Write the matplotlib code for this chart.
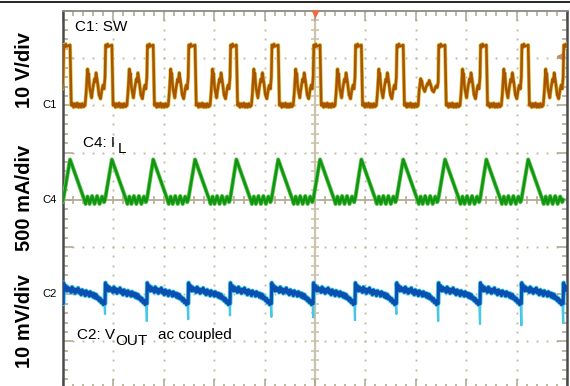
import numpy as np
import matplotlib
matplotlib.use('Agg')
import matplotlib.pyplot as plt
from matplotlib.lines import Line2D

plt.rcParams['font.family'] = ['Liberation Sans', 'DejaVu Sans']

# scope screen: 10 div across, 8 div high
# C1 (SW) sits at +2 div, C4 (IL) at 0, C2 (VOUT) at -2 div

# falling edges of SW (div)
sw_fall = [-0.69, 0.14, 0.97, 1.79, 2.62, 3.44, 4.27, 5.10, 5.92, 6.75, 7.58, 8.40, 9.23]
# size of the ringing on each cycle
sw_ring_gain = [1, 1, 1, 1, 1, 1, 1, 1, 1, 0.45, 1, 1, 1]

# one SW cycle after the falling edge: time (div), volts
sw_t = [0.000, 0.024, 0.045, 0.07, 0.095, 0.12, 0.145, 0.17, 0.195, 0.22, 0.245, 0.27, 0.298,
        0.317, 0.347, 0.357, 0.367, 0.387, 0.407, 0.427, 0.456, 0.486, 0.500, 0.516, 0.546,
        0.575, 0.605, 0.635, 0.655, 0.675, 0.694, 0.706, 0.725, 0.745, 0.765]
sw_v = [12.8, 0.0, 0.5, -0.4, 0.4, -0.3, 0.5, -0.4, 0.3, -0.4, 0.4, -0.3, 0.0,
        2.4, 7.7, 6.0, 6.8, 3.9, 2.8, 1.6, 3.9, 5.6, 5.0, 6.9, 4.8,
        2.2, 1.4, 3.5, 4.3, 3.5, 6.0, 12.8, 12.3, 13.0, 12.5]

# inductor current over one cycle: time (div), mA
il_t = [0.000, 0.278, 0.308, 0.347, 0.387, 0.437, 0.486, 0.536, 0.585, 0.635, 0.675, 0.694]
il_v = [427, 8, -44, 35, -44, 40, -44, 40, -44, 35, -25, 0]

# output ripple over one cycle: time (div), mV; index 35 is the switching spike
vo_t = [0.00, 0.02, 0.04, 0.06, 0.08, 0.10, 0.12, 0.14, 0.16, 0.18, 0.20, 0.22,
        0.24, 0.26, 0.28, 0.30, 0.32, 0.34, 0.36, 0.38, 0.40, 0.42, 0.44, 0.46,
        0.48, 0.50, 0.52, 0.54, 0.56, 0.58, 0.60, 0.62, 0.64, 0.66, 0.68,
        0.694, 0.702, 0.72, 0.74, 0.76, 0.78, 0.80]
vo_v = [1.2, 0.4, 1.5, 0.6, 1.1, 0.2, 1.0, 0.5, 1.3, 0.3, 0.8, -0.1,
        0.9, 0.2, 0.6, -0.3, 0.7, 0.1, 0.4, -0.4, 0.5, -0.2, 0.2, -0.6,
        0.1, -0.8, -0.1, -1.0, -0.6, -1.4, -0.9, -1.8, -1.3, -2.2, -1.8,
        -2.0, 2.4, 1.0, 1.8, 0.7, 1.5, 0.8]
vo_spike = [-2.0, -4.2, -5.7, -5.3, -4.5, -4.8, -4.9, -5.5, -4.2, -5.7, -6.3, -6.6, -6.1]


def build(edges, tt, vv):
    t, v = [], []
    for e in edges:
        t.extend(e + np.array(tt))
        v.extend(vv)
    return np.array(t), np.array(v, float)


# SW with per-cycle ringing size
t1, v1 = [], []
ring = (np.array(sw_t) > 0.30) & (np.array(sw_t) < 0.70)
for e, g in zip(sw_fall, sw_ring_gain):
    v = np.array(sw_v, float)
    v[ring] = 4 + (v[ring] - 4) * g
    t1.extend(e + np.array(sw_t))
    v1.extend(v)
t1, v1 = np.array(t1), np.array(v1)

t4, v4 = build(sw_fall, il_t, il_v)

t2, v2 = build(sw_fall, vo_t, vo_v)
t2s, v2s = [], []
for e, s in zip(sw_fall, vo_spike):
    v = list(vo_v)
    v[35] = s
    t2s.extend(e + np.array(vo_t))
    v2s.extend(v)
t2s, v2s = np.array(t2s), np.array(v2s)

fig = plt.figure(figsize=(5.7, 3.86), dpi=100)
ax = fig.add_axes([63 / 570, -2.6 / 386, 504 / 570, 377.6 / 386])
ax.set_xlim(0, 10)
ax.set_ylim(-4, 4)

# graticule
gcol = '#bdb49a'
for k in range(1, 10):
    if k == 5:
        continue
    ys = np.arange(-4, 4.01, 0.2)
    ax.plot(np.full_like(ys, k), ys, ls='none', marker='s', ms=1.3, mec='none', mfc=gcol, zorder=1)
for k in range(-3, 4):
    if k == 0:
        continue
    xs = np.arange(0, 10.01, 0.2)
    ax.plot(xs, np.full_like(xs, k), ls='none', marker='s', ms=1.3, mec='none', mfc=gcol, zorder=1)
ax.axvline(5, color='#cbc3aa', lw=1.6, zorder=1)
ax.axhline(0, color='#b5ad95', lw=1.3, zorder=1)
xs = np.arange(0, 10.01, 0.2)
ys = np.arange(-4, 4.01, 0.2)
ax.plot(xs, np.zeros_like(xs), ls='none', marker='|', ms=6, mew=1.2, color='#b5ad95', zorder=1)
ax.plot(np.full_like(ys, 5), ys, ls='none', marker='_', ms=6, mew=1.2, color='#cbc3aa', zorder=1)

# traces
ax.plot(t1, 2 + v1 / 10, color='#dcc448', lw=2.8, zorder=3, solid_joinstyle='round')
ax.plot(t1, 2 + v1 / 10, color='#a85400', lw=1.8, zorder=4, solid_joinstyle='round')
ax.plot(t4, v4 / 500, color='#6acb5a', lw=3.0, zorder=3)
ax.plot(t4, v4 / 500, color='#129512', lw=1.9, zorder=4)
ax.plot(t2s, -2 + v2s / 10, color='#45c8e6', lw=1.6, zorder=3)
ax.plot(t2, -2 + v2 / 10, color='#45c8e6', lw=3.4, zorder=3)
ax.plot(t2, -2 + v2 / 10, color='#0b4fb0', lw=2.2, zorder=4)

# frame and edge ticks
ax.set_xticks(np.arange(0, 11, 1))
ax.set_xticks(np.arange(0, 10.01, 0.2), minor=True)
ax.set_yticks(np.arange(-4, 5, 1))
ax.set_yticks(np.arange(-4, 4.01, 0.2), minor=True)
ax.tick_params(which='both', direction='in', top=True, right=True, labelbottom=False,
               labelleft=False, color='#aba38a', width=1.1)
ax.tick_params(which='major', length=7)
ax.tick_params(which='minor', length=3.6)
for s in ['left', 'right']:
    ax.spines[s].set_color('#4a4a4a')
    ax.spines[s].set_linewidth(1.8)
for s in ['top', 'bottom']:
    ax.spines[s].set_color('#8a8a8a')
    ax.spines[s].set_linewidth(1.3)

# markers
ax.plot([5], [3.93], marker='v', ms=6, color='#f26b3a', mec='none', clip_on=False, zorder=6)
ax.annotate('', xy=(9.72, 3.03), xytext=(10.0, 3.03),
            arrowprops=dict(arrowstyle='-|>', color='#c88c60', lw=1.8, mutation_scale=9))

# text on the screen
fs = 11
ax.text(0.24, 3.576, 'C1: SW', fontsize=fs, va='baseline', zorder=5)
ax.text(0.40, 1.125, 'C4: I', fontsize=fs, va='baseline', zorder=5)
ax.text(1.08, 1.0, 'L', fontsize=fs, va='baseline', zorder=5)
ax.text(0.27, -2.945, 'C2: V', fontsize=fs, va='baseline', zorder=5)
ax.text(1.04, -3.076, 'OUT', fontsize=fs, va='baseline', zorder=5)
ax.text(1.89, -2.945, 'ac coupled', fontsize=fs, va='baseline', zorder=5)

# channel labels on the left
tr = ax.get_yaxis_transform()
for lab, y in [('C1', 2), ('C4', 0), ('C2', -2)]:
    ax.text(-0.012, y, lab, transform=tr, fontsize=8, ha='right', va='center')

fig.text(25 / 570, 1 - 70 / 386, '10 V/div', rotation=90, ha='center', va='center',
         fontsize=14.5, fontweight='bold')
fig.text(25 / 570, 1 - 198 / 386, '500 mA/div', rotation=90, ha='center', va='center',
         fontsize=14.5, fontweight='bold')
fig.text(25 / 570, 1 - 321 / 386, '10 mV/div', rotation=90, ha='center', va='center',
         fontsize=14.5, fontweight='bold')

fig.add_artist(Line2D([0, 1], [1 - 2 / 386] * 2, color='black', lw=1.2, transform=fig.transFigure))

fig.savefig('out.png', dpi=100)
